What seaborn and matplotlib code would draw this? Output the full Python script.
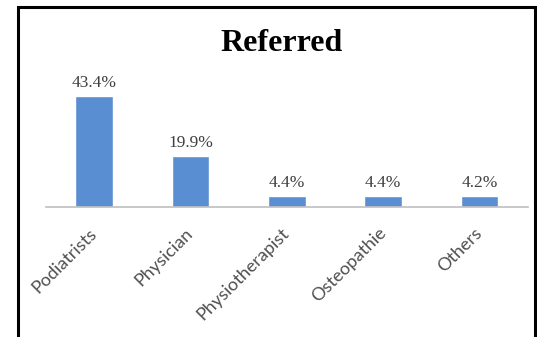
import matplotlib
matplotlib.use("Agg")
import matplotlib.pyplot as plt
import seaborn as sns
import pandas as pd
from matplotlib.patches import Rectangle

categories = ["Podiatrists", "Physician", "Physiotherapist", "Osteopathie", "Others"]
values = [43.4, 19.9, 4.4, 4.4, 4.2]
title = "Referred"

df = pd.DataFrame({"category": categories, "value": values})

sns.set_style("white")
fig = plt.figure(figsize=(5.37, 3.37), dpi=100)
ax = fig.add_axes([0.0853, 0.3858, 0.8976, 0.3795])

sns.barplot(data=df, x="category", y="value", color="#5A8ED2", width=0.39,
            saturation=1, ax=ax)
ax.set_ylim(0, 50)
ax.set_xlim(-0.5, len(categories) - 0.5)

# value labels above the bars
for i, v in enumerate(values):
    ax.annotate(f"{v:.1f}%", (i, v), xytext=(0, 6.5), textcoords="offset points",
                ha="center", va="baseline", fontsize=12.5,
                family="Liberation Serif", color="#404040")

ax.set_xlabel("")
ax.set_ylabel("")
ax.set_yticks([])
for side in ["left", "right", "top"]:
    ax.spines[side].set_visible(False)
ax.spines["bottom"].set_color("#BFBFBF")
ax.spines["bottom"].set_linewidth(1.2)
ax.tick_params(axis="x", length=0, pad=17)
ax.set_xticks(range(len(categories)))
ax.set_xticklabels(categories, rotation=45, ha="right", va="center",
                   rotation_mode="anchor", fontsize=13, family="Lato",
                   color="#505050")

fig.text(0.525, 1 - 51 / 337, title, ha="center", va="baseline",
         fontsize=23, fontweight="bold", family="Liberation Serif", color="black")

# black frame around the picture (open at the bottom edge)
fig.patches.append(Rectangle((17.5 / 537, -0.05), (534.5 - 17.5) / 537,
                             1.05 - 6.5 / 337, transform=fig.transFigure,
                             fill=False, edgecolor="black", linewidth=2.2))

fig.savefig("out.png", dpi=100)
